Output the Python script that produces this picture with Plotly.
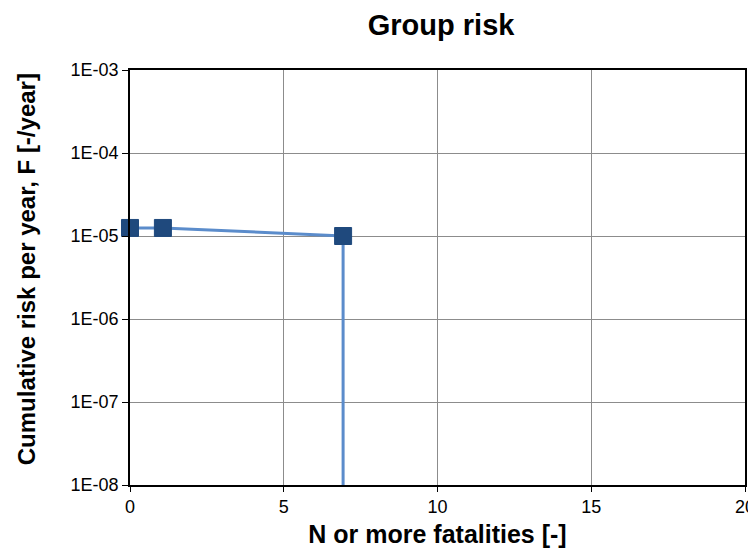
import plotly.graph_objects as go

# Data
n_values = [0, 1.07, 6.93]
f_values = [1.25e-5, 1.25e-5, 1.0e-5]
drop_n = [6.93, 6.93]
drop_f = [1.0e-5, 1.0e-9]
y_tickvals = [1e-8, 1e-7, 1e-6, 1e-5, 1e-4, 1e-3]
y_ticktext = ["1E-08", "1E-07", "1E-06", "1E-05", "1E-04", "1E-03"]
x_tickvals = [0, 5, 10, 15, 20]

line_color = "#5B8CCB"
marker_color = "#1F497D"
font_family = "Liberation Sans, Arial, sans-serif"

fig = go.Figure()
fig.add_trace(go.Scatter(x=drop_n, y=drop_f, mode="lines",
                         line=dict(color=line_color, width=3), showlegend=False,
                         hoverinfo="skip"))
fig.add_trace(go.Scatter(x=n_values, y=f_values, mode="lines+markers",
                         line=dict(color=line_color, width=3),
                         marker=dict(symbol="square", size=17, color=marker_color,
                                     line=dict(color=marker_color, width=1)),
                         showlegend=False, cliponaxis=False))

fig.add_annotation(text="<b>Cumulative risk per year, F [-/year]</b>", textangle=-90,
                   xref="paper", yref="paper", x=-0.169, y=0.52,
                   xanchor="center", yanchor="middle", showarrow=False,
                   font=dict(size=24, family=font_family, color="black"))

fig.update_layout(
    width=748, height=540,
    margin=dict(l=122, r=11, t=62, b=63, autoexpand=False),
    paper_bgcolor="white", plot_bgcolor="white",
    font=dict(family=font_family, color="black"),
    title=dict(text="<b>Group risk</b>", x=0.579, xanchor="center", y=0.9685, yref="container",
               yanchor="middle",
               font=dict(size=29, family=font_family, color="black")),
    xaxis=dict(range=[0, 20], tickvals=x_tickvals, showgrid=True, gridcolor="#8C8C8C", gridwidth=1,
               showline=True, linecolor="black", linewidth=1.5, mirror=True,
               ticks="outside", ticklen=5, tickcolor="black",
               tickfont=dict(size=18, family=font_family), zeroline=False,
               title=dict(text="<b>N or more fatalities [-]</b>", font=dict(size=25, family=font_family),
                          standoff=13)),
    yaxis=dict(type="log", range=[-8, -3], tickvals=y_tickvals, ticktext=y_ticktext,
               showgrid=True, gridcolor="#8C8C8C", gridwidth=1,
               showline=True, linecolor="black", linewidth=1.5, mirror=True,
               ticks="outside", ticklen=6, tickcolor="black",
               tickfont=dict(size=18, family=font_family), zeroline=False),
)

fig.write_html("out.html")
